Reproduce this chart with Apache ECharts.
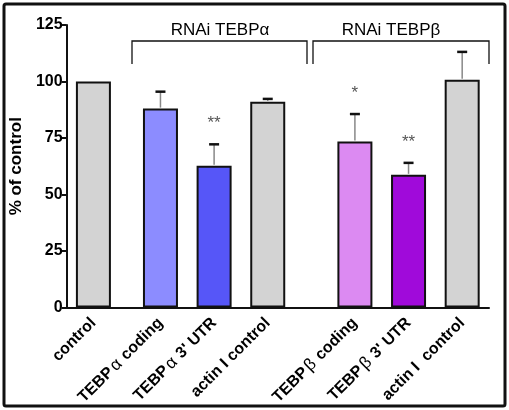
<!DOCTYPE html>
<html><head><meta charset="utf-8">
<script src="https://cdn.jsdelivr.net/npm/echarts@6/dist/echarts.min.js"></script>
<style>html,body{margin:0;padding:0;background:#fff}#c{width:509px;height:410px}</style>
</head><body><div id="c"></div>
<script>
const categories = ['control', 'TEBPα coding', "TEBPα 3' UTR", 'actin I control', 'TEBPβ coding', "TEBPβ 3' UTR", 'actin I  control'];
const values = [100, 88, 62.7, 91, 73.5, 58.7, 100.8];
const errors = [0, 7.5, 9.5, 1.3, 12.1, 5.3, 12.3];
const significance = ['', '', '**', '', '*', '**', ''];
const colors = ['#d3d3d3', '#8c8cff', '#5656f8', '#d3d3d3', '#dc8af2', '#a00ada', '#d3d3d3'];
const yTicks = [0, 25, 50, 75, 100, 125];
const groupTitles = ['RNAi TEBPα', 'RNAi TEBPβ'];

// layout: slot index of each bar on a fine category axis
const slots = [4, 14, 22, 30, 43, 51, 59];
const nSlots = 64;

const axisCats = [];
for (let i = 0; i < nSlots; i++) axisCats.push('s' + i);
const labelAt = {};
slots.forEach((s, i) => labelAt['s' + s] = categories[i]);

const barData = axisCats.map(() => '-');
slots.forEach((s, i) => {
  barData[s] = { value: values[i], itemStyle: { color: colors[i] } };
});
const errData = slots.map((s, i) => [s, values[i], errors[i], significance[i]]);

function fmtLabel(name) {
  const t = labelAt[name];
  if (!t) return '';
  const m = t.match(/^(.*?)([αβ])(.*)$/);
  if (!m) return '{b|' + t + '}';
  return '{b|' + m[1] + '}{g|' + m[2] + '}{b|' + m[3] + '}';
}

const chart = echarts.init(document.getElementById('c'), null, { renderer: 'canvas' });
const FONT = '"Liberation Sans", Arial, sans-serif';
chart.setOption({
  animation: false,
  backgroundColor: '#fff',
  grid: { left: 66, right: 20, top: 25, bottom: 102.5, containLabel: false },
  xAxis: {
    type: 'category', data: axisCats, boundaryGap: false,
    axisLine: { lineStyle: { color: '#111', width: 2 } },
    axisTick: { show: false },
    axisLabel: {
      interval: 0, rotate: 45, margin: 13, formatter: fmtLabel,
      rich: {
        b: { fontFamily: FONT, fontWeight: 'bold', fontSize: 16, color: '#000' },
        g: { fontFamily: FONT, fontWeight: 'normal', fontSize: 17, color: '#000', padding: [0, 1, 0, 2] }
      }
    }
  },
  yAxis: {
    type: 'value', min: yTicks[0], max: yTicks[yTicks.length - 1], interval: 25,
    name: '% of control', nameLocation: 'middle', nameGap: 34,
    nameTextStyle: { fontFamily: FONT, fontWeight: 'bold', fontSize: 17, color: '#000' },
    axisLine: { show: true, lineStyle: { color: '#111', width: 2 } },
    axisTick: { show: true, length: 5, lineStyle: { color: '#111', width: 2 } },
    axisLabel: { fontFamily: FONT, fontWeight: 'bold', fontSize: 16, color: '#000', margin: 4 },
    splitLine: { show: false }
  },
  series: [
    {
      type: 'bar', data: barData, barWidth: 35,
      itemStyle: { borderColor: '#111', borderWidth: 2 }
    },
    {
      type: 'custom', data: errData, z: 5,
      renderItem: function (params, api) {
        const x = api.value(0), v = api.value(1), e = api.value(2);
        const sig = significance[params.dataIndex];
        const base = api.coord([x, v]);
        const top = api.coord([x, v + e]);
        const children = [];
        if (e > 0) {
          children.push({ type: 'line', shape: { x1: base[0], y1: base[1] - 1, x2: top[0], y2: top[1] }, style: { stroke: '#888', lineWidth: 1.5 } });
          children.push({ type: 'line', shape: { x1: top[0] - 5, y1: top[1], x2: top[0] + 5, y2: top[1] }, style: { stroke: '#111', lineWidth: 2.5 } });
        }
        if (sig) {
          children.push({ type: 'text', x: top[0], y: top[1] - 21, style: { text: sig, fontFamily: FONT, fontSize: 17, fill: '#555', align: 'center', verticalAlign: 'middle' } });
        }
        return { type: 'group', children: children };
      }
    }
  ],
  graphic: [
    { type: 'rect', shape: { x: 4, y: 4, width: 501, height: 402, r: 2 }, style: { fill: 'none', stroke: '#111', lineWidth: 3 }, z: 100 },
    { type: 'polyline', shape: { points: [[132, 64], [132, 41], [307, 41], [307, 64]] }, style: { stroke: '#111', lineWidth: 1.3, fill: 'none' } },
    { type: 'polyline', shape: { points: [[313, 64], [313, 41], [489, 41], [489, 64]] }, style: { stroke: '#111', lineWidth: 1.3, fill: 'none' } },
    { type: 'text', x: 220, y: 30, style: { text: groupTitles[0], font: '17px ' + FONT, fill: '#000', align: 'center', verticalAlign: 'middle' } },
    { type: 'text', x: 391, y: 30, style: { text: groupTitles[1], font: '17px ' + FONT, fill: '#000', align: 'center', verticalAlign: 'middle' } }
  ]
});
</script></body></html>
